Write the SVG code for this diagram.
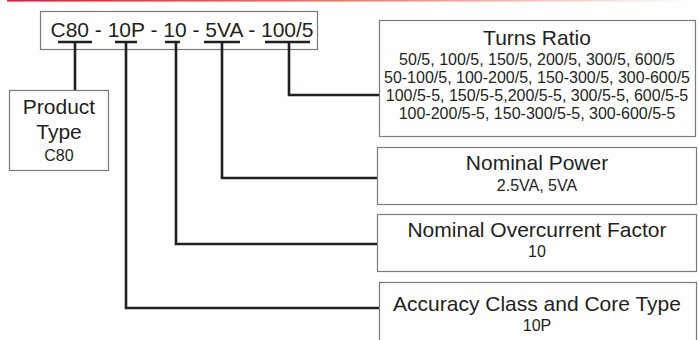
<svg xmlns="http://www.w3.org/2000/svg" width="699" height="340" viewBox="0 0 699 340">
<defs>
<linearGradient id="topbar" x1="0" y1="0" x2="1" y2="0">
<stop offset="0" stop-color="#d6203a"/>
<stop offset="0.5" stop-color="#e8806e"/>
<stop offset="1" stop-color="#ffffff"/>
</linearGradient>
</defs>
<style>
.box{fill:#fff;stroke:#7a7a7a;stroke-width:1.2}
.t{font-family:"Liberation Sans",Arial,sans-serif;fill:#231f20;text-anchor:middle}
.big{font-size:21px}
.small{font-size:16px}
.conn{fill:none;stroke:#231f20;stroke-width:2.6;stroke-linejoin:miter}
</style>
<rect x="7" y="0" width="692" height="1.6" fill="url(#topbar)"/>

<g id="code">
<rect class="box" x="40.5" y="11.5" width="277" height="38"/>
<text class="t big" x="182" y="37">C80 - 10P - 10 - 5VA - 100/5</text>
</g>

<g id="connectors">
<path class="conn" d="M58 42H92M75 42V90"/>
<path class="conn" d="M115 42H137M126 42V308H379"/>
<path class="conn" d="M165 42H180M176 42V244H377"/>
<path class="conn" d="M204 42H240M222 42V178H377"/>
<path class="conn" d="M265 42H310M289 42V95H379"/>
</g>

<g id="product-type">
<rect class="box" x="9.5" y="90.5" width="99" height="80"/>
<text class="t big" x="59" y="114">Product</text>
<text class="t big" x="59" y="139">Type</text>
<text class="t small" x="59" y="161">C80</text>
</g>

<g id="turns-ratio">
<rect class="box" x="379.5" y="20.5" width="316" height="116"/>
<text class="t big" x="537" y="45">Turns Ratio</text>
<text class="t small" x="537" y="65">50/5, 100/5, 150/5, 200/5, 300/5, 600/5</text>
<text class="t small" x="537" y="83">50-100/5, 100-200/5, 150-300/5, 300-600/5</text>
<text class="t small" x="537" y="101">100/5-5, 150/5-5,200/5-5, 300/5-5, 600/5-5</text>
<text class="t small" x="537" y="119">100-200/5-5, 150-300/5-5, 300-600/5-5</text>
</g>

<g id="nominal-power">
<rect class="box" x="377.5" y="147.5" width="319" height="57"/>
<text class="t big" x="537" y="170">Nominal Power</text>
<text class="t small" x="537" y="191">2.5VA, 5VA</text>
</g>

<g id="overcurrent-factor">
<rect class="box" x="377.5" y="214.5" width="319" height="57"/>
<text class="t big" x="537" y="237">Nominal Overcurrent Factor</text>
<text class="t small" x="537" y="257">10</text>
</g>

<g id="accuracy-class">
<rect class="box" x="379.5" y="282.5" width="317" height="70"/>
<text class="t big" x="537" y="311">Accuracy Class and Core Type</text>
<text class="t small" x="537" y="331">10P</text>
</g>
</svg>
